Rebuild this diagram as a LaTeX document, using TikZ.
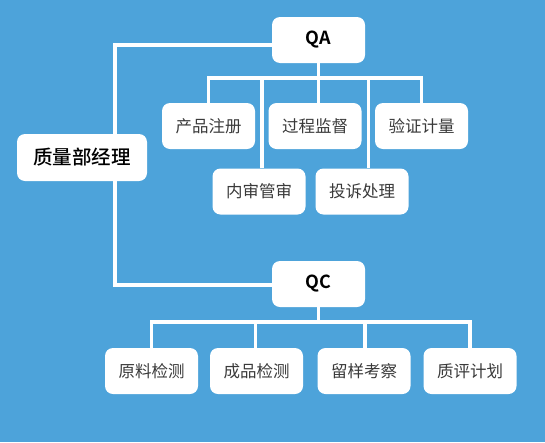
\documentclass[tikz,border=0pt]{standalone}
\usepackage{fontspec}
\newfontfamily\cjk[BoldFont={Noto Sans CJK SC Bold}]{Noto Sans CJK SC}
\newfontfamily\cjkmed{Noto Sans CJK SC Medium}
\definecolor{bg}{HTML}{4DA3DA}
\definecolor{txt}{HTML}{3A3A3A}
\pgfdeclarelayer{bglayer}
\pgfdeclarelayer{edgelayer}
\pgfsetlayers{bglayer,edgelayer,main}
\tikzset{
  box/.style={draw=none, fill=white, rounded corners=8pt, minimum width=93pt, minimum height=46pt, inner sep=0pt, font=\cjk\fontsize{16.5}{18}\selectfont, text=txt},
  headbox/.style={box, font=\cjk\bfseries\fontsize{18}{20}\selectfont, text=black},
  mgrbox/.style={box, minimum width=130pt, minimum height=47pt, font=\cjkmed\fontsize{19.5}{22}\selectfont, text=black},
  link/.style={draw=white, line width=3.5pt}
}
\begin{document}
\begin{tikzpicture}[x=1pt,y=-1pt]
\begin{pgfonlayer}{bglayer}
\fill[bg] (0,0) rectangle (545,442);
\end{pgfonlayer}
\useasboundingbox (0,0) rectangle (545,442);
\coordinate (qabar) at (318.5,78);
\coordinate (qcbar) at (318.5,322);
\node[headbox] (QA) at (318.5,40) {QA};
\node[mgrbox] (mgr) at (82,157.5) {质量部经理};
\node[box] (c1) at (208.5,126) {产品注册};
\node[box] (c2) at (315,126) {过程监督};
\node[box] (c3) at (421.5,126) {验证计量};
\node[box] (d1) at (259,191.5) {内审管审};
\node[box] (d2) at (362,191.5) {投诉处理};
\node[headbox] (QC) at (318.5,284) {QC};
\node[box] (e1) at (151.5,371) {原料检测};
\node[box] (e2) at (256.5,371) {成品检测};
\node[box] (e3) at (364,371) {留样考察};
\node[box] (e4) at (470,371) {质评计划};
\begin{pgfonlayer}{edgelayer}
\draw[link] ([yshift=-5pt]QA.west) -| ([xshift=33pt]mgr.north);
\draw[link] ([xshift=33pt]mgr.south) |- ([yshift=-1pt]QC.west);
\draw[link] (QA.south) -- (qabar);
\draw[link] (c1.north) |- (qabar);
\draw[link] (c3.north) |- (qabar);
\draw[link] (qabar) -- (qabar |- c2.north);
\draw[link] ([xshift=3pt]d1.north) |- (qabar);
\draw[link] ([xshift=6.5pt]d2.north) |- (qabar);
\draw[link] (QC.south) -- (qcbar);
\draw[link] (e1.north) |- (qcbar);
\draw[link] ([xshift=-1pt]e2.north) |- (qcbar);
\draw[link] ([xshift=1pt]e3.north) |- (qcbar);
\draw[link] (e4.north) |- (qcbar);
\end{pgfonlayer}
\end{tikzpicture}
\end{document}
